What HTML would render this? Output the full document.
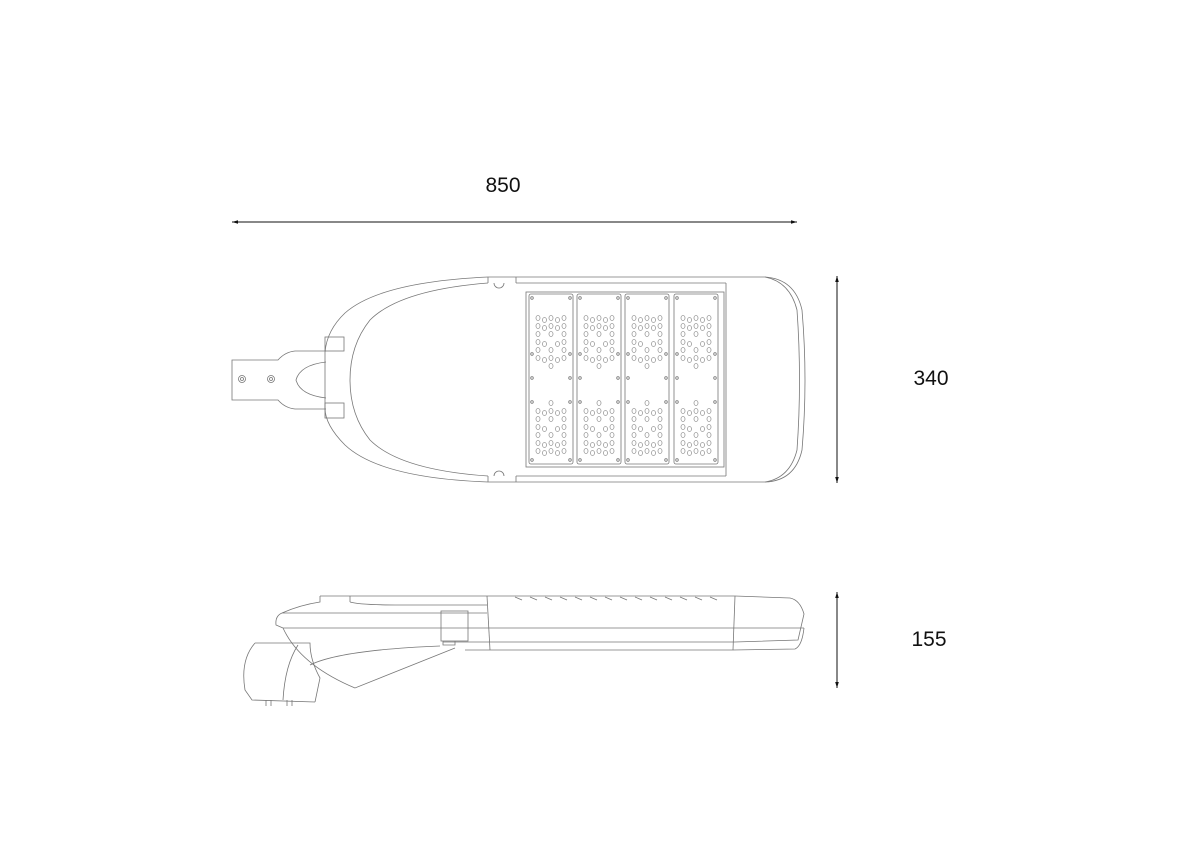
<!DOCTYPE html>
<html><head><style>
html,body{margin:0;padding:0;background:#fff;}
svg{display:block}
text{font-family:"Liberation Sans",sans-serif;font-size:21px;fill:#111}
</style></head><body>
<svg id="s" width="1191" height="842" viewBox="0 0 1191 842" xmlns="http://www.w3.org/2000/svg">
<defs>
<marker id="a" viewBox="0 0 10 10" refX="10" refY="5" markerWidth="8" markerHeight="6" orient="auto-start-reverse"><path d="M0,2 L10,5 L0,8z" fill="#111"/></marker>
</defs>
<g stroke="#111" stroke-width="1" fill="none">
<line x1="232" y1="222" x2="797" y2="222" marker-start="url(#a)" marker-end="url(#a)"/>
<line x1="837" y1="276" x2="837" y2="483" marker-start="url(#a)" marker-end="url(#a)"/>
<line x1="837" y1="592" x2="837" y2="688" marker-start="url(#a)" marker-end="url(#a)"/>
</g>
<text x="503" y="192" text-anchor="middle">850</text>
<text x="931" y="385" text-anchor="middle">340</text>
<text x="929" y="646" text-anchor="middle">155</text>
<g stroke="#777" stroke-width="0.8" fill="none" id="top">
<path d="M488,277 L765,277 Q795,279 802,310 Q808,380 802,450 Q795,481 765,482 L488,482 Q380,478 345,445 Q325,425 325,408 L325,352 Q327,330 345,313 Q380,282 488,277 Z"/>
<path d="M765,277 Q790,282 797,310 Q802,380 797,450 Q790,478 765,482"/>
<path d="M488,283 Q400,290 370,320 Q350,345 350,380 Q350,415 370,440 Q400,470 488,476"/>
<line x1="488" y1="277" x2="488" y2="283"/><line x1="516" y1="277" x2="516" y2="283"/>
<line x1="488" y1="476" x2="488" y2="482"/><line x1="516" y1="476" x2="516" y2="482"/>
<line x1="516" y1="283" x2="726" y2="283"/><line x1="516" y1="476" x2="726" y2="476"/>
<line x1="726" y1="283" x2="726" y2="476"/>
<path d="M494,283 A5,5 0 0 0 504,283"/><path d="M494,476 A5,5 0 0 1 504,476"/>
<rect x="325" y="337" width="19" height="14"/><rect x="325" y="403" width="19" height="15"/>
<path d="M326,351 L295,351 Q285,352 278,360 L232,360 L232,400 L278,400 Q285,408 295,409 L326,409"/>
<path d="M326,362 Q300,365 296,380 Q300,395 326,398"/>
<circle cx="242" cy="379" r="3.5"/><circle cx="242" cy="379" r="1.5"/>
<circle cx="271" cy="379" r="3.5"/><circle cx="271" cy="379" r="1.5"/>
<rect x="526" y="292" width="198" height="175"/>
<g id="mods"></g>
</g>
<g stroke="#777" stroke-width="0.8" fill="none">
<path d="M320,596 L735,596 L790,598 Q800,600 804,614 L798,640 L735,642 L487,642 L443,642"/>
<line x1="350" y1="596" x2="350" y2="602"/>
<path d="M350,602 Q360,605 400,605 L487,605"/>
<path d="M320,596 L320,602 Q300,605 282,613 L487,613"/>
<line x1="487" y1="596" x2="490" y2="650"/><line x1="735" y1="596" x2="733" y2="650"/>
<path d="M282,613 Q275,616 276,625 L283,628"/>
<line x1="283" y1="628" x2="804" y2="628"/>
<path d="M490,650 L733,650 L795,649 Q802,646 804,628"/>
<rect x="441" y="611" width="27" height="30"/>
<path d="M443,641 L443,645 L455,645 L455,641"/><line x1="465" y1="650" x2="490" y2="650"/>
<path d="M283,628 Q300,665 355,688 Q400,670 455,648"/>
<path d="M310,665 Q340,650 440,646"/>
<path d="M255,643 L310,643 Q310,660 320,678 L315,702"/>
<path d="M255,643 Q240,660 245,690 L252,700 L315,702"/>
<path d="M298,645 Q285,665 283,700"/>
<g id="fins"></g>
<line x1="266" y1="700" x2="266" y2="706"/><line x1="271" y1="700" x2="271" y2="706"/>
<line x1="287" y1="700" x2="287" y2="706"/><line x1="292" y1="700" x2="292" y2="706"/>
</g>
<script>
var ns="http://www.w3.org/2000/svg";
function el(p,t,a){var e=document.createElementNS(ns,t);for(var k in a)e.setAttribute(k,a[k]);p.appendChild(e);return e;}
var m=document.getElementById('mods');
var xs=[529,577,625,674];
var pat=["11111","11111","1.1.1","11.11","1.1.1","11111","..1.."];
xs.forEach(function(x){
 el(m,'rect',{x:x,y:294,width:44,height:170,rx:2});
 [[3,4],[41,4],[3,166],[41,166],[3,84],[41,84],[3,60],[41,60],[3,108],[41,108]].forEach(function(p){el(m,'circle',{cx:x+p[0],cy:294+p[1],r:1.3});});
 for(var blk=0;blk<2;blk++){
  var by=318+blk*85;
  for(var r=0;r<7;r++)for(var c=0;c<5;c++){
   var row=blk?pat[6-r]:pat[r];
   if(row[c]!='1')continue;
   el(m,'ellipse',{cx:x+9+c*6.5,cy:by+r*8+((c%2)?2:0),rx:2,ry:2.5,stroke:'#999'});
  }
 }
});
var f=document.getElementById('fins');
for(var i=0;i<14;i+=1){var x=515+i*15;el(f,'line',{x1:x,y1:597,x2:x+7,y2:600});}
</script>
</svg>
</body></html>
